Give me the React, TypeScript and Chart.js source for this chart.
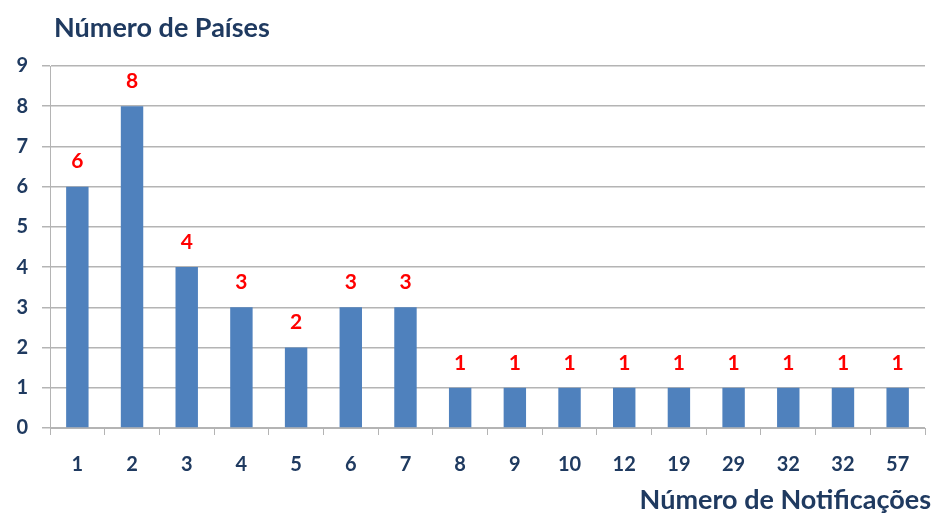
import React, { useEffect, useRef } from "react";
import { Chart, registerables } from "chart.js";

Chart.register(...registerables);

const categories = ["1", "2", "3", "4", "5", "6", "7", "8", "9", "10", "12", "19", "29", "32", "32", "57"];
const countries = [6, 8, 4, 3, 2, 3, 3, 1, 1, 1, 1, 1, 1, 1, 1, 1];
const yTicks = [0, 1, 2, 3, 4, 5, 6, 7, 8, 9];

const NAVY = "#1F3A60";
const BAR = "#4F81BD";
const GRID = "#B4B4B4";
const FONT = "Lato, 'DejaVu Sans', sans-serif";

const labelsPlugin = {
  id: "valueLabels",
  afterDatasetsDraw(chart: any) {
    const ctx = chart.ctx;
    const meta = chart.getDatasetMeta(0);
    ctx.save();
    ctx.fillStyle = "#FF0000";
    ctx.font = `bold 21px ${FONT}`;
    ctx.textAlign = "center";
    ctx.textBaseline = "middle";
    meta.data.forEach((el: any, i: number) => {
      ctx.fillText(String(countries[i]), el.x, el.y - 25);
    });
    ctx.restore();
  },
};

const titlesPlugin = {
  id: "axisTitles",
  afterDraw(chart: any) {
    const ctx = chart.ctx;
    ctx.save();
    ctx.fillStyle = NAVY;
    ctx.font = `bold 27px ${FONT}`;
    ctx.textBaseline = "middle";
    ctx.textAlign = "left";
    ctx.fillText("Número de Países", chart.chartArea.left + 4, 28);
    ctx.textAlign = "right";
    ctx.fillText("Número de Notificações", chart.chartArea.right + 6, 500);
    ctx.restore();
  },
};

export default function App() {
  const ref = useRef<HTMLCanvasElement | null>(null);
  useEffect(() => {
    if (!ref.current) return;
    const chart = new Chart(ref.current, {
      type: "bar",
      data: {
        labels: categories,
        datasets: [
          {
            data: countries,
            backgroundColor: BAR,
            borderWidth: 0,
            barPercentage: 0.41,
            categoryPercentage: 1,
          },
        ],
      },
      options: {
        responsive: false,
        animation: false,
        devicePixelRatio: 1,
        layout: { padding: { top: 66, right: 11, left: 0, bottom: 0 } },
        plugins: {
          legend: { display: false },
          tooltip: { enabled: false },
        },
        scales: {
          x: {
            grid: {
              display: true,
              drawOnChartArea: false,
              drawTicks: true,
              tickLength: 7,
              color: GRID,
              offset: true,
            },
            border: { display: true, color: GRID },
            ticks: {
              color: NAVY,
              font: { family: FONT, size: 20, weight: "bold" },
              padding: 18,
              maxRotation: 0,
            },
            afterFit(scale: any) {
              scale.height = 90;
            },
          },
          y: {
            min: 0,
            max: 9,
            afterBuildTicks(scale: any) {
              scale.ticks = yTicks.map((v) => ({ value: v }));
            },
            grid: {
              color: GRID,
              lineWidth: 1.5,
              drawTicks: true,
              tickLength: 8,
            },
            border: { display: true, color: GRID },
            ticks: {
              color: NAVY,
              font: { family: FONT, size: 20, weight: "bold" },
              padding: 14,
            },
            afterFit(scale: any) {
              scale.width = 50;
            },
          },
        },
      },
      plugins: [labelsPlugin, titlesPlugin],
    } as any);
    return () => chart.destroy();
  }, []);
  return (
    <div style={{ position: "absolute", left: 0, top: 0, width: 936, height: 518, background: "#fff" }}>
      <canvas ref={ref} width={936} height={518} />
    </div>
  );
}
